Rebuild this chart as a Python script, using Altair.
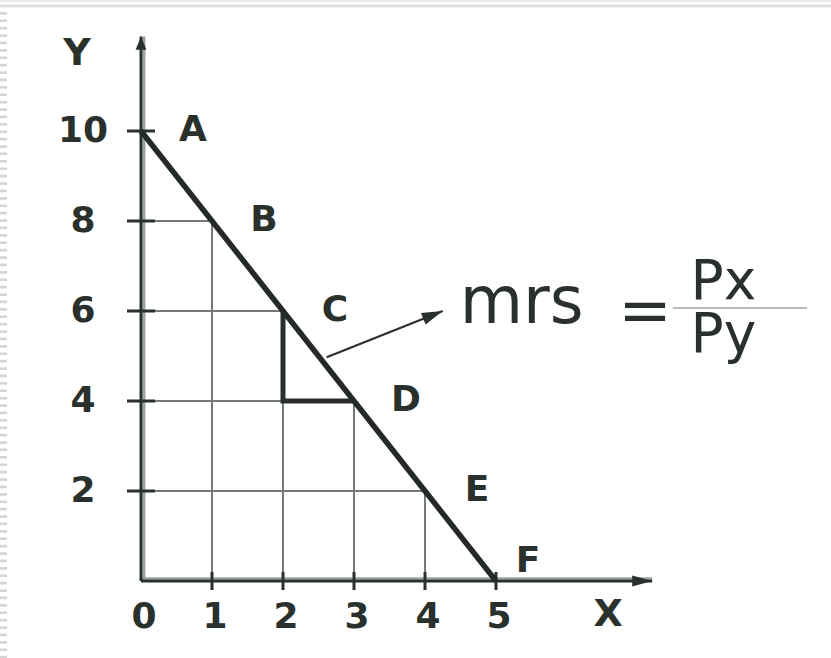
import math

import altair as alt
import pandas as pd

# Budget line: bundles A..F of good X and good Y
point_labels = ["A", "B", "C", "D", "E", "F"]
good_x = [0, 1, 2, 3, 4, 5]
good_y = [10, 8, 6, 4, 2, 0]

# Axis tick values and their labels
x_tick_values = [0, 1, 2, 3, 4, 5]
x_tick_labels = ["0", "1", "2", "3", "4", "5"]
y_tick_values = [2, 4, 6, 8, 10]
y_tick_labels = ["2", "4", "6", "8", "10"]

# Slope triangle between C and D
tri_x = [2, 2, 3]
tri_y = [6, 4, 4]

# Pointer from the budget line to the formula
arrow_x = [2.615, 4.25]
arrow_y = [4.97, 6.0]

# Axis extents (arrow tips)
x_axis_end = 7.2
y_axis_end = 12.1

# Formula placement (data units)
mrs_pos = (4.49, 5.733)
eq_pos = (7.10, 5.544)
num_pos = (7.74, 6.27)
den_pos = (7.74, 5.10)
frac_x = [7.49, 9.38]
frac_y = 6.067

# Axis titles
x_title_pos = (6.58, -0.756)
y_title_pos = (-0.90, 11.72)

W, H = 831, 658
ORIGIN_X_PX, ORIGIN_Y_PX = 141, 581
PX_PER_X, PX_PER_Y = 71, 45

x_scale = alt.Scale(domain=[-ORIGIN_X_PX / PX_PER_X, (W - ORIGIN_X_PX) / PX_PER_X],
                    nice=False, zero=False)
y_scale = alt.Scale(domain=[(ORIGIN_Y_PX - H) / PX_PER_Y, ORIGIN_Y_PX / PX_PER_Y],
                    nice=False, zero=False)

INK = "#2a302c"
GRID = "#767a77"
SHADE = "#9ba59f"
FONT = "DejaVu Sans"
LABEL_SIZE = 36


def xq(field="x"):
    return alt.X(f"{field}:Q", scale=x_scale, axis=None)


def yq(field="y"):
    return alt.Y(f"{field}:Q", scale=y_scale, axis=None)


pts = pd.DataFrame({"label": point_labels, "x": good_x, "y": good_y})
inner = pts[(pts.x > 0) & (pts.y > 0)].assign(zero=0)

# Slide frame decoration
frame_top1 = alt.Chart(pd.DataFrame({"k": [0]})).mark_rule(color="#e4e4e4", strokeWidth=1.5).encode(
    x=alt.value(0), x2=alt.value(W), y=alt.value(1))
frame_top2 = alt.Chart(pd.DataFrame({"k": [0]})).mark_rule(color="#dadada", strokeWidth=2.5).encode(
    x=alt.value(0), x2=alt.value(W), y=alt.value(6))
frame_left = alt.Chart(pd.DataFrame({"k": [0]})).mark_rule(
    color="#d6d6d6", strokeWidth=7, strokeDash=[2.7, 4.7]).encode(
    x=alt.value(3.5), y=alt.value(12), y2=alt.value(H))

# Guide lines from each bundle down and across to the axes
grid_v = alt.Chart(inner).mark_rule(color=GRID, strokeWidth=2).encode(
    x=xq(), y=yq("zero"), y2="y:Q")
grid_h = alt.Chart(inner).mark_rule(color=GRID, strokeWidth=2).encode(
    y=yq(), x=xq("zero"), x2="x:Q")

# Axes with a soft shadow edge
axis_df = pd.DataFrame({"zero": [0], "xe": [x_axis_end], "ye": [y_axis_end]})
y_axis_shade = alt.Chart(axis_df).mark_rule(color=SHADE, strokeWidth=3, xOffset=3).encode(
    x=xq("zero"), y=yq("zero"), y2="ye:Q")
x_axis_shade = alt.Chart(axis_df).mark_rule(color=SHADE, strokeWidth=2.5, yOffset=-2.5).encode(
    y=yq("zero"), x=xq("zero"), x2="xe:Q")
y_axis = alt.Chart(axis_df).mark_rule(color=INK, strokeWidth=3).encode(
    x=xq("zero"), y=yq("zero"), y2="ye:Q")
x_axis = alt.Chart(axis_df).mark_rule(color=INK, strokeWidth=3).encode(
    y=yq("zero"), x=xq("zero"), x2="xe:Q")

HALF_TICK_X = 14 / PX_PER_X
HALF_TICK_Y = 9 / PX_PER_Y
y_ticks = alt.Chart(pd.DataFrame({"y": y_tick_values, "label": y_tick_labels})).transform_calculate(
    a=f"{-HALF_TICK_X}", b=f"{HALF_TICK_X}").mark_rule(color=INK, strokeWidth=3).encode(
    y=yq(), x=xq("a"), x2="b:Q")
x_ticks = alt.Chart(pd.DataFrame({"x": [v for v in x_tick_values if v > 0]})).transform_calculate(
    a=f"{-HALF_TICK_Y}", b=f"{HALF_TICK_Y}").mark_rule(color=INK, strokeWidth=3).encode(
    x=xq(), y=yq("a"), y2="b:Q")

x_head = alt.Chart(pd.DataFrame({"x": [x_axis_end], "y": [0]})).mark_point(
    shape="M0,0L-2,-0.55L-2,0.55Z", size=400, filled=True, color=INK, opacity=1).encode(
    x=xq(), y=yq())
y_head = alt.Chart(pd.DataFrame({"x": [0], "y": [y_axis_end]})).mark_point(
    shape="M0,0L-0.9,2.2L0.9,2.2Z", size=144, filled=True, color=INK, opacity=1).encode(
    x=xq(), y=yq())

y_labels = alt.Chart(pd.DataFrame({"y": y_tick_values, "label": y_tick_labels, "zero": 0})).mark_text(
    font=FONT, fontWeight="bold", fontSize=LABEL_SIZE, color=INK, align="center", baseline="middle",
    dx=-58).encode(x=xq("zero"), y=yq(), text="label:N")
x_labels = alt.Chart(pd.DataFrame({"x": x_tick_values, "label": x_tick_labels, "zero": 0})).mark_text(
    font=FONT, fontWeight="bold", fontSize=LABEL_SIZE, color=INK, align="center", baseline="middle",
    dx=3, dy=36).encode(x=xq(), y=yq("zero"), text="label:N")

titles = alt.Chart(pd.DataFrame({"x": [x_title_pos[0], y_title_pos[0]],
                                 "y": [x_title_pos[1], y_title_pos[1]],
                                 "label": ["X", "Y"]})).mark_text(
    font=FONT, fontWeight="bold", fontSize=38, color=INK, align="center", baseline="middle").encode(
    x=xq(), y=yq(), text="label:N")

# Budget line
budget = alt.Chart(pts).mark_line(color="#252a27", strokeWidth=5.5, strokeCap="butt").encode(
    x=xq(), y=yq(), order="x:Q")

# Slope triangle
tri = alt.Chart(pd.DataFrame({"x": tri_x, "y": tri_y, "o": [0, 1, 2]})).mark_line(
    color=INK, strokeWidth=5, strokeJoin="miter").encode(x=xq(), y=yq(), order="o:Q")

# Point labels
label_ae = alt.Chart(pts[pts.label != "F"]).mark_text(
    font=FONT, fontWeight="bold", fontSize=LABEL_SIZE, color=INK, align="center", baseline="middle",
    dx=52, dy=-1).encode(x=xq(), y=yq(), text="label:N")
label_f = alt.Chart(pts[pts.label == "F"]).mark_text(
    font=FONT, fontWeight="bold", fontSize=LABEL_SIZE, color=INK, align="center", baseline="middle",
    dx=32, dy=-20).encode(x=xq(), y=yq(), text="label:N")

# Pointer arrow to the formula
arrow_df = pd.DataFrame({"x": arrow_x, "y": arrow_y, "o": [0, 1]})
pointer = alt.Chart(arrow_df).mark_line(color=INK, strokeWidth=2.2).encode(
    x=xq(), y=yq(), order="o:Q")
dx_px = (arrow_x[1] - arrow_x[0]) * PX_PER_X
dy_px = -(arrow_y[1] - arrow_y[0]) * PX_PER_Y
heading = math.degrees(math.atan2(dy_px, dx_px)) % 360
pointer_head = alt.Chart(arrow_df.tail(1)).mark_point(
    shape="M0,0L-2,-0.6L-2,0.6Z", size=440, filled=True, color=INK, opacity=1,
    angle=heading).encode(x=xq(), y=yq())

# Formula: mrs = Px / Py
formula = alt.Chart(pd.DataFrame({
    "x": [mrs_pos[0], num_pos[0], den_pos[0]],
    "y": [mrs_pos[1], num_pos[1], den_pos[1]],
    "label": ["mrs", "Px", "Py"],
    "size": [65, 55, 55],
})).mark_text(font=FONT, color=INK, align="left", baseline="alphabetic").encode(
    x=xq(), y=yq(), text="label:N", size=alt.Size("size:Q", scale=None, legend=None))
equals = alt.Chart(pd.DataFrame({"x": [eq_pos[0]], "y": [eq_pos[1]], "label": ["="]})).mark_text(
    font=FONT, color=INK, fontSize=64, align="center", baseline="alphabetic").encode(
    x=xq(), y=yq(), text="label:N")
frac_bar = alt.Chart(pd.DataFrame({"x": [frac_x[0]], "x2": [frac_x[1]], "y": [frac_y]})).mark_rule(
    color="#b9bbba", strokeWidth=2).encode(x=xq(), x2="x2:Q", y=yq())

chart = alt.layer(
    frame_top1, frame_top2, frame_left,
    grid_v, grid_h,
    y_axis_shade, x_axis_shade, y_axis, x_axis, y_ticks, x_ticks, x_head, y_head,
    tri, budget, pointer, pointer_head,
    y_labels, x_labels, titles, label_ae, label_f,
    formula, equals, frac_bar,
).properties(
    width=W, height=H,
    autosize=alt.AutoSizeParams(type="none"),
    padding=0,
    background="white",
).configure_view(stroke=None)

chart.save("out.html", embed_options={"renderer": "svg", "actions": False})
